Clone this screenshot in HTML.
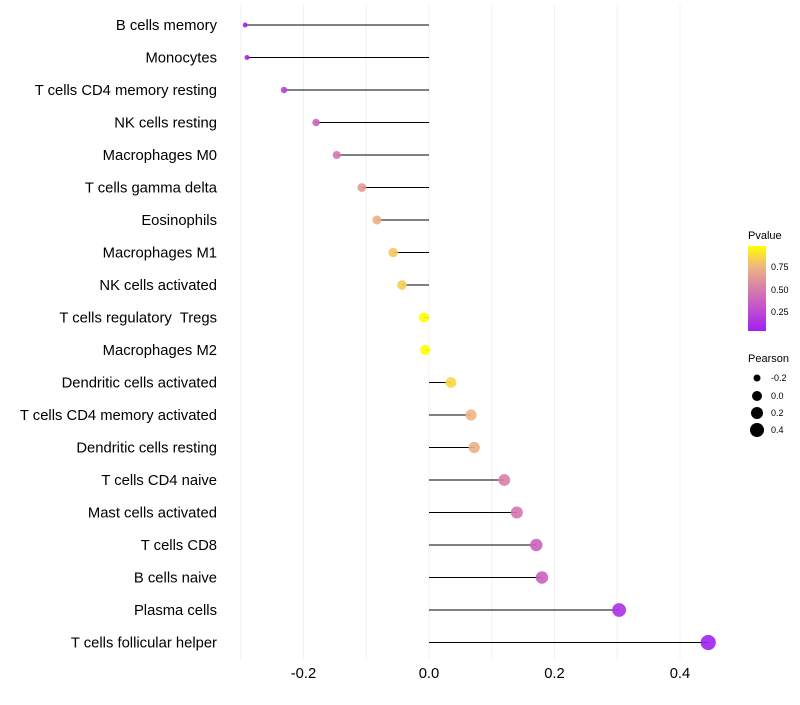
<!DOCTYPE html>
<html><head><meta charset="utf-8"><style>
body{margin:0;background:#fff;}
svg text{font-family:"Liberation Sans",sans-serif;white-space:pre;}
</style></head><body>
<svg id="chart" width="800" height="700" xmlns="http://www.w3.org/2000/svg">
<defs><linearGradient id="pg" x1="0" y1="1" x2="0" y2="0">
<stop offset="0" stop-color="#a020f0"/><stop offset="0.25" stop-color="#c04ed0"/><stop offset="0.5" stop-color="#d97ea8"/><stop offset="0.75" stop-color="#efb384"/><stop offset="1" stop-color="#ffff00"/></linearGradient></defs>
<g id="grid"></g>
<g id="marks"></g>
<g id="ylab"></g>
<g id="xlab"></g>
<g>
<text x="748" y="239" font-size="11">Pvalue</text>
<rect x="748" y="246" width="18" height="85" fill="url(#pg)"/>
<text x="771" y="270" font-size="9">0.75</text>
<text x="771" y="293" font-size="9">0.50</text>
<text x="771" y="315" font-size="9">0.25</text>
</g>
<g>
<text x="748" y="362" font-size="11">Pearson</text>
<circle cx="757" cy="378" r="3.5" fill="#000"/>
<circle cx="757" cy="396" r="5" fill="#000"/>
<circle cx="757" cy="413" r="6" fill="#000"/>
<circle cx="757" cy="430" r="7" fill="#000"/>
<text x="771" y="381" font-size="9">-0.2</text>
<text x="771" y="399" font-size="9">0.0</text>
<text x="771" y="416" font-size="9">0.2</text>
<text x="771" y="433" font-size="9">0.4</text>
</g>
</svg>
<script>
const categories=["B cells memory","Monocytes","T cells CD4 memory resting","NK cells resting","Macrophages M0","T cells gamma delta","Eosinophils","Macrophages M1","NK cells activated","T cells regulatory  Tregs ","Macrophages M2","Dendritic cells activated","T cells CD4 memory activated","Dendritic cells resting","T cells CD4 naive","Mast cells activated","T cells CD8","B cells naive","Plasma cells","T cells follicular helper"];
const pearson=[-0.293,-0.290,-0.231,-0.180,-0.147,-0.107,-0.083,-0.057,-0.043,-0.008,-0.006,0.035,0.067,0.072,0.120,0.140,0.171,0.180,0.303,0.445];
const pvalues=[0.03,0.04,0.2,0.37,0.45,0.62,0.72,0.8,0.82,0.97,0.97,0.85,0.73,0.72,0.5,0.45,0.37,0.35,0.12,0.04];
const xTicks=[-0.2,0.0,0.2,0.4];
const xTickLabels=["-0.2","0.0","0.2","0.4"];
const gridVals=[-0.3,-0.2,-0.1,0,0.1,0.2,0.3,0.4];
const NS="http://www.w3.org/2000/svg";
const x=v=>429+v*627.5;
const y=i=>25+i*32.5;
const r=v=>Math.sqrt(Math.max(4,6+70*(v+0.293)));
const stops=[[0,[160,32,240]],[0.25,[192,78,208]],[0.5,[217,126,168]],[0.75,[239,179,132]],[1,[255,255,0]]];
function col(p){p=Math.min(1,Math.max(0,(p-0.03)/0.94));for(let k=1;k<stops.length;k++){if(p<=stops[k][0]){const a=stops[k-1],b=stops[k],t=(p-a[0])/(b[0]-a[0]);return"rgb("+a[1].map((c,j)=>Math.round(c+(b[1][j]-c)*t)).join(",")+")";}}return"rgb(255,255,0)";}
function mk(t,at,parent){const e=document.createElementNS(NS,t);for(const k in at)e.setAttribute(k,at[k]);document.getElementById(parent).appendChild(e);return e;}
gridVals.forEach(v=>{const l=mk("line",{x1:x(v),x2:x(v),y1:5,y2:660,stroke:"#f0f0f0","stroke-width":1},"grid");

});
categories.forEach((c,i)=>{
const l=mk("line",{x1:x(0),x2:x(pearson[i]),y1:y(i),y2:y(i),stroke:"#000","stroke-width":1.1},"marks");


const p=mk("circle",{cx:x(pearson[i]),cy:y(i),r:r(pearson[i]),fill:col(pvalues[i]),"fill-opacity":0.9},"marks");


const t=mk("text",{x:217,y:y(i)+5,"text-anchor":"end","font-size":14.8,fill:"#000"},"ylab");
t.textContent=c.trimEnd();


});
xTicks.forEach((v,i)=>{const t=mk("text",{x:x(v),y:678,"text-anchor":"middle","font-size":14.8,fill:"#000"},"xlab");
t.textContent=xTickLabels[i];

});
</script>
</body></html>
